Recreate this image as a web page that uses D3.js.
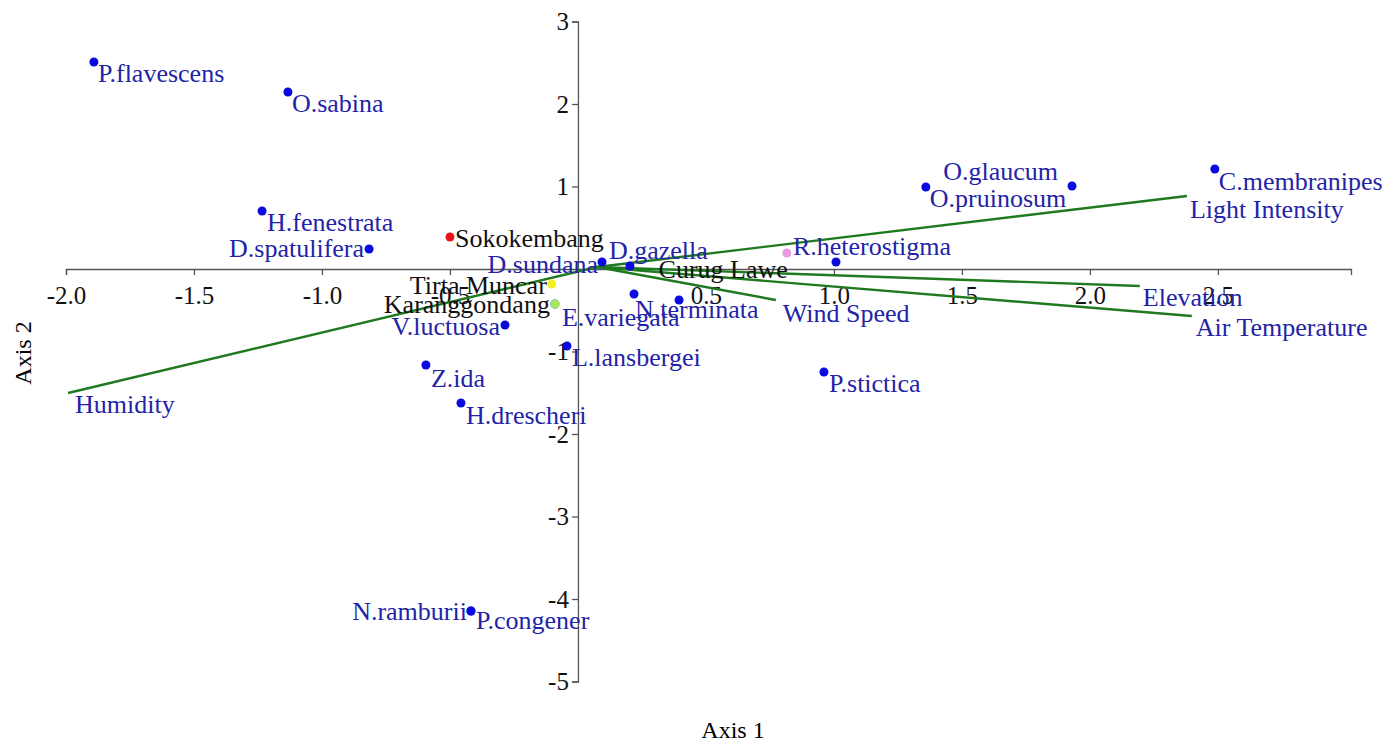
<!DOCTYPE html>
<html>
<head>
<meta charset="utf-8">
<script src="https://cdn.jsdelivr.net/npm/d3@7"></script>
<style>
  body { margin: 0; background: #fff; }
  text { font-family: "Liberation Serif", "Times New Roman", serif; }
</style>
</head>
<body>
<div id="plot"></div>
<script>
// Species scores
const speciesNames = ["P.flavescens", "O.sabina", "H.fenestrata", "D.spatulifera", "D.sundana", "D.gazella",
  "N.terminata", "", "E.variegata", "L.lansbergei", "V.luctuosa", "Z.ida", "H.drescheri",
  "N.ramburii", "P.congener", "R.heterostigma", "O.pruinosum", "O.glaucum", "C.membranipes", "P.stictica"];
const speciesX = [-1.891, -1.133, -1.234, -0.816, 0.094, 0.203, 0.219, 0.395, -0.09, -0.043, -0.285,
  -0.594, -0.457, -0.418, -0.418, 1.008, 1.359, 1.930, 2.488, 0.961];
const speciesY = [2.509, 2.145, 0.703, 0.242, 0.085, 0.036, -0.303, -0.376, -0.424, -0.933, -0.679,
  -1.164, -1.624, -4.145, -4.145, 0.085, 0.994, 1.006, 1.212, -1.248];

// Site scores
const siteNames = ["Sokokembang", "Tirta Muncar", "Karanggondang", "Curug Lawe"];
const siteX = [-0.5, -0.102, -0.09, 0.816];
const siteY = [0.388, -0.182, -0.424, 0.194];

// Environmental vectors
const envNames = ["Humidity", "Light Intensity", "Elevation", "Air Temperature", "Wind Speed"];
const envX = [-1.992, 2.379, 2.195, 2.398, 0.773];
const envY = [-1.503, 0.885, -0.206, -0.570, -0.376];
const envOrigin = [0.074, 0.024];

// Tick labels
const xTicks = [-2.0, -1.5, -1.0, -0.5, 0.5, 1.0, 1.5, 2.0, 2.5];
const yTicks = [3, 2, 1, -1, -2, -3, -4, -5];

// label placement (pixels: dx, dy, anchor)
const speciesLabelPos = {
  "P.flavescens": [4, 20, "start"], "O.sabina": [4, 20, "start"], "H.fenestrata": [5, 20, "start"],
  "D.spatulifera": [-5, 8, "end"], "D.sundana": [-4, 11, "end"], "D.gazella": [-21, -7, "start"],
  "N.terminata": [1, 24, "start"], "E.variegata": [7, 22, "start"], "L.lansbergei": [5, 20, "start"],
  "V.luctuosa": [-5, 10, "end"], "Z.ida": [5, 22, "start"], "H.drescheri": [5, 21, "start"],
  "N.ramburii": [-4, 9, "end"], "P.congener": [5, 18, "start"], "R.heterostigma": [-43, -7, "start"],
  "O.pruinosum": [4, 20, "start"], "O.glaucum": [-14, -6, "end"], "C.membranipes": [4, 21, "start"],
  "P.stictica": [5, 20, "start"]
};
const siteLabelPos = [[5, 10, "start"], [-5, 10, "end"], [-5, 9, "end"], [1, 25, "end"]];
const siteColors = ["#e8141b", "#f2f022", "#a6e85a", "#e99ae0"];
const envLabelPos = [[7, 20], [3, 22], [3, 20], [4, 20], [7, 22]];

const width = 1387, height = 742;
const blueText = "#2323a8", blueDot = "#0a0ae0", green = "#1f7a1f";

const svg = d3.select("#plot").append("svg")
  .attr("width", width)
  .attr("height", height);

const x = d3.scaleLinear().domain([-2.0, 3.02]).range([66, 1351]);
const y = d3.scaleLinear().domain([-5, 3]).range([681.5, 21.5]);

// plain hyphen for negatives, like the original
function fmt(spec) {
  const f = d3.format(spec);
  return function (d) { return f(d).replace("\u2212", "-"); };
}

// axes through origin
const xAxis = svg.append("g")
  .attr("transform", "translate(0," + y(0) + ")")
  .call(d3.axisBottom(x).tickValues(xTicks).tickFormat(fmt(".1f"))
    .tickSizeOuter(0).tickSize(6).tickPadding(11));
const yAxis = svg.append("g")
  .attr("transform", "translate(" + x(0) + ",0)")
  .call(d3.axisLeft(y).tickValues(yTicks).tickFormat(fmt("d"))
    .tickSizeOuter(0).tickSize(6).tickPadding(3));

[xAxis, yAxis].forEach(function (g) {
  g.selectAll("path, line").attr("stroke", "#555").attr("stroke-width", 1.3);
  g.selectAll("text").attr("fill", "#111").style("font-size", "25px")
    .style("font-family", "'Liberation Serif', serif");
});

// axis titles
svg.append("text")
  .attr("x", 733).attr("y", 738)
  .attr("text-anchor", "middle")
  .style("font-size", "24px")
  .text("Axis 1");
svg.append("text")
  .attr("transform", "translate(31,353) rotate(-90)")
  .attr("text-anchor", "middle")
  .style("font-size", "24px")
  .text("Axis 2");

// environmental vectors
svg.append("g").selectAll("line")
  .data(envNames).enter()
  .append("line")
  .attr("x1", x(envOrigin[0]))
  .attr("y1", y(envOrigin[1]))
  .attr("x2", function (d, i) { return x(envX[i]); })
  .attr("y2", function (d, i) { return y(envY[i]); })
  .attr("stroke", green)
  .attr("stroke-width", 2.4);

// species dots
svg.append("g").selectAll("circle")
  .data(speciesNames).enter()
  .append("circle")
  .attr("cx", function (d, i) { return x(speciesX[i]); })
  .attr("cy", function (d, i) { return y(speciesY[i]); })
  .attr("r", 4.5)
  .attr("fill", blueDot);

// site dots
svg.append("g").selectAll("circle")
  .data(siteNames).enter()
  .append("circle")
  .attr("cx", function (d, i) { return x(siteX[i]); })
  .attr("cy", function (d, i) { return y(siteY[i]); })
  .attr("r", 4.5)
  .attr("fill", function (d, i) { return siteColors[i]; });

// site labels
svg.append("g").selectAll("text")
  .data(siteNames).enter()
  .append("text")
  .attr("x", function (d, i) { return x(siteX[i]) + siteLabelPos[i][0]; })
  .attr("y", function (d, i) { return y(siteY[i]) + siteLabelPos[i][1]; })
  .attr("text-anchor", function (d, i) { return siteLabelPos[i][2]; })
  .attr("fill", "#111")
  .style("font-size", "26px")
  .text(function (d) { return d; });

// species labels
svg.append("g").selectAll("text")
  .data(speciesNames.filter(function (d) { return d !== ""; })).enter()
  .append("text")
  .attr("x", function (d) { return x(speciesX[speciesNames.indexOf(d)]) + speciesLabelPos[d][0]; })
  .attr("y", function (d) { return y(speciesY[speciesNames.indexOf(d)]) + speciesLabelPos[d][1]; })
  .attr("text-anchor", function (d) { return speciesLabelPos[d][2]; })
  .attr("fill", blueText)
  .style("font-size", "26px")
  .text(function (d) { return d; });

// env labels
svg.append("g").selectAll("text")
  .data(envNames).enter()
  .append("text")
  .attr("x", function (d, i) { return x(envX[i]) + envLabelPos[i][0]; })
  .attr("y", function (d, i) { return y(envY[i]) + envLabelPos[i][1]; })
  .attr("fill", blueText)
  .style("font-size", "26px")
  .text(function (d) { return d; });
</script>
</body>
</html>
